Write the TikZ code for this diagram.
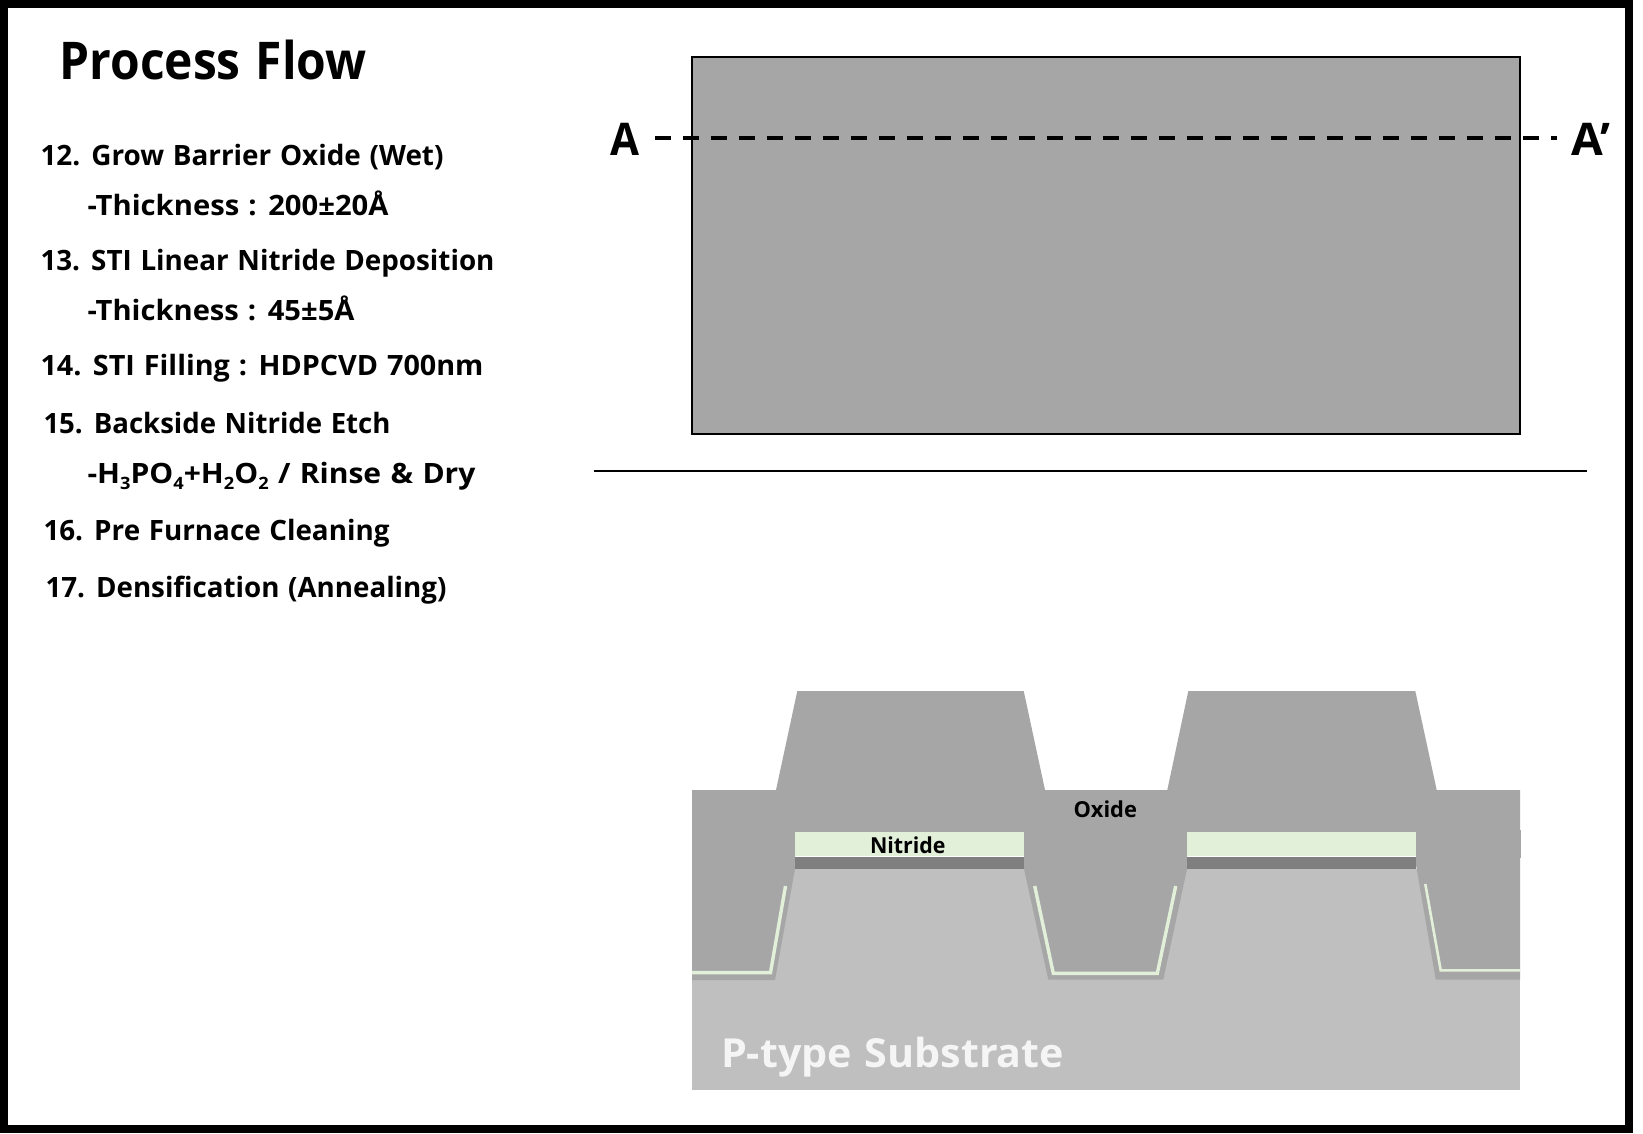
\documentclass[tikz,border=0pt]{standalone}
\usepackage{fontspec}
\usepackage{graphicx}
\setmainfont[WordSpace=1.2]{Open Sans}
\newcommand{\lowr}[1]{\raisebox{-0.22em}{\fontsize{17}{17}\selectfont #1}}
\newcommand{\fitw}[2]{\resizebox{#1pt}{\height}{#2}}
\definecolor{oxidegray}{HTML}{A6A6A6}
\definecolor{subgray}{HTML}{BFBFBF}
\definecolor{padgray}{HTML}{7F7F7F}
\definecolor{nitgreen}{HTML}{E2F0D9}
\definecolor{subtext}{HTML}{F5F5F5}
\tikzset{
  lbl/.style={anchor=base west,inner sep=0pt,outer sep=0pt,font=\bfseries\fontsize{28}{28}\selectfont},
  ttl/.style={lbl,font=\bfseries\fontsize{52}{52}\selectfont},
  sect/.style={lbl,font=\bfseries\fontsize{45}{45}\selectfont},
  small/.style={lbl,font=\bfseries\fontsize{22}{22}\selectfont},
  liner/.style={draw=nitgreen,line width=3.4pt,miter limit=10},
}
\begin{document}
\begin{tikzpicture}[x=1pt,y=-1pt]
\useasboundingbox (0,0) rectangle (1643,1133);
\fill[white] (0,0) rectangle (1643,1133);
\draw[black,line width=8pt] (4,4) rectangle (1629,1129);
% plan view
\draw[fill=oxidegray,draw=black,line width=2pt] (692,57) rectangle (1520,433.7);
\coordinate (dashL) at (655,137.7);
\coordinate (dashR) at (1557,137.7);
\draw[black,line width=4pt,dash pattern=on 16pt off 12pt] (dashL) -- (dashR);
\coordinate (divL) at (594,471);
\coordinate (divR) at (1587,471);
\draw[black,line width=2pt] (divL) -- (divR);
% cross-section
\fill[subgray] (692,869) rectangle (1520,1090);
\fill[oxidegray] (692,790) -- (776,790) -- (797.3,691) -- (1023.7,691) -- (1045,790)
  -- (1167.3,790) -- (1188.3,691) -- (1415.3,691) -- (1436.7,790) -- (1520,790)
  -- (1520,979.5) -- (1435.7,979.5) -- (1416,865) -- (1416,832)
  -- (1187,832) -- (1187,869) -- (1163.3,979.5) -- (1048.3,979.5) -- (1024,869) -- (1024,832)
  -- (795,832) -- (795,869) -- (775,980) -- (692,980) -- cycle;
\fill[oxidegray] (1520,830) rectangle (1521,858);
\fill[nitgreen] (795,832) rectangle (1024,856);
\fill[nitgreen] (1187,832) rectangle (1416,856);
\fill[padgray] (795,857) rectangle (1024,869);
\fill[padgray] (1187,857) rectangle (1416,869);
\draw[liner] (785.5,886) -- (770.5,972.6) -- (692,972.6);
\draw[liner] (1034.7,886) -- (1053.3,973.3) -- (1157.3,973.3) -- (1175.7,886);
\draw[liner,line width=2.6pt] (1425.3,884) -- (1440.7,970.3) -- (1520,970.3);
% texts
\node[ttl] (title) at (59.5,79.5) {\fitw{307}{Process Flow}};
\node[lbl] (s12) at (40.5,165) {\fitw{403}{12. Grow Barrier Oxide (Wet)}};
\node[lbl] (s12a) at (87.5,215) {\fitw{301}{-Thickness : 200±20Å}};
\node[lbl] (s13) at (40.5,270) {\fitw{454}{13. STI Linear Nitride Deposition}};
\node[lbl] (s13a) at (87.5,320) {\fitw{267}{-Thickness : 45±5Å}};
\node[lbl] (s14) at (40.5,375) {\fitw{443}{14. STI Filling : HDPCVD 700nm}};
\node[lbl] (s15) at (43.5,433) {\fitw{347}{15. Backside Nitride Etch}};
\node[lbl] (s15a) at (87.5,483) {\fitw{388}{-H\lowr{3}PO\lowr{4}+H\lowr{2}O\lowr{2} / Rinse \& Dry}};
\node[lbl] (s16) at (43.5,540) {\fitw{346}{16. Pre Furnace Cleaning}};
\node[lbl] (s17) at (45.5,597) {\fitw{401}{17. Densification (Annealing)}};
\node[sect] (markA) at (610,155) {\fitw{29}{A}};
\node[sect] (markB) at (1571.5,155) {\fitw{38.5}{A’}};
\node[small] (oxide) at (1073.5,817.7) {\fitw{63.5}{Oxide}};
\node[small] (nitride) at (870,853) {\fitw{75.5}{Nitride}};
\node[lbl,font=\bfseries\fontsize{40}{40}\selectfont,text=subtext] (subs) at (721,1067) {\fitw{343}{P-type Substrate}};
\end{tikzpicture}
\end{document}
